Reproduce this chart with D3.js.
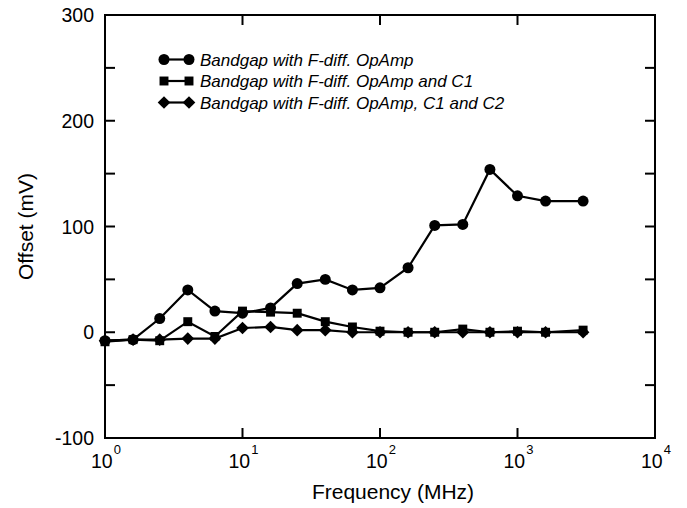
<!DOCTYPE html>
<html><head><meta charset="utf-8">
<script src="https://cdn.jsdelivr.net/npm/d3@7"></script>
<style>body{margin:0;background:#fff}svg{display:block}</style>
</head><body>
<script>
const freq = [1, 1.6, 2.5, 4, 6.3, 10, 16, 25, 40, 63, 100, 160, 250, 400, 630, 1000, 1600, 3000];
const offsetOpAmp = [-8, -7, 13, 40, 20, 18, 23, 46, 50, 40, 42, 61, 101, 102, 154, 129, 124, 124];
const offsetC1 = [-9, -7, -8, 10, -4, 20, 19, 18, 10, 5, 1, 0, 0, 3, 0, 1, 0, 2];
const offsetC1C2 = [-8, -7, -7, -6, -6, 4, 5, 2, 2, 0, 0, 0, 0, 0, 0, 0, 0, 0];
const seriesNames = ["Bandgap with F-diff. OpAmp", "Bandgap with F-diff. OpAmp and C1", "Bandgap with F-diff. OpAmp, C1 and C2"];
const yTicks = [-100, 0, 100, 200, 300];
const yMinorTicks = [-100, -50, 0, 50, 100, 150, 200, 250, 300];
const xTicks = [1, 10, 100, 1000, 10000];

const W = 687, H = 508;
const L = 105, R = 655, T = 15, B = 438;
const svg = d3.select("body").append("svg").attr("width", W).attr("height", H);
const x = d3.scaleLog().domain([1, 10000]).range([L, R]);
const y = d3.scaleLinear().domain([-100, 300]).range([B, T]);
const font = "Liberation Sans, Arial, Helvetica, sans-serif";

// frame
svg.append("rect").attr("x", L).attr("y", T).attr("width", R - L).attr("height", B - T)
  .attr("fill", "none").attr("stroke", "#000").attr("stroke-width", 2);

const tl = 10;
svg.selectAll(".ytl").data(yMinorTicks).enter().append("line")
  .attr("x1", L).attr("x2", L + tl).attr("y1", d => y(d)).attr("y2", d => y(d))
  .attr("stroke", "#000").attr("stroke-width", 2);
svg.selectAll(".ytr").data(yMinorTicks).enter().append("line")
  .attr("x1", R).attr("x2", R - tl).attr("y1", d => y(d)).attr("y2", d => y(d))
  .attr("stroke", "#000").attr("stroke-width", 2);
svg.selectAll(".xtb").data(xTicks).enter().append("line")
  .attr("y1", B).attr("y2", B - tl).attr("x1", d => x(d)).attr("x2", d => x(d))
  .attr("stroke", "#000").attr("stroke-width", 2);
svg.selectAll(".xtt").data(xTicks).enter().append("line")
  .attr("y1", T).attr("y2", T + tl).attr("x1", d => x(d)).attr("x2", d => x(d))
  .attr("stroke", "#000").attr("stroke-width", 2);

// y tick labels
svg.selectAll(".yl").data(yTicks).enter().append("text")
  .attr("x", L - 11).attr("y", d => y(d) + 7).attr("text-anchor", "end")
  .attr("font-family", font).attr("font-size", 19.5).text(d => d);

// x tick labels with superscripts
const xl = svg.selectAll(".xl").data(xTicks).enter().append("text")
  .attr("x", d => x(d) - 14).attr("y", B + 30).attr("text-anchor", "start")
  .attr("font-family", font).attr("font-size", 19.5);
xl.append("tspan").text("10");
xl.append("tspan").attr("dx", 1).attr("dy", -14).attr("font-size", 13).text(d => Math.round(Math.log10(d)));

// axis titles
svg.append("text").attr("x", 393).attr("y", 499).attr("text-anchor", "middle")
  .attr("font-family", font).attr("font-size", 21).text("Frequency (MHz)");
svg.append("text").attr("transform", `translate(33,${(T + B) / 2}) rotate(-90)`)
  .attr("text-anchor", "middle").attr("font-family", font).attr("font-size", 21).text("Offset (mV)");

// series
const allSeries = [offsetOpAmp, offsetC1, offsetC1C2];
const diamond = {draw(ctx, size) { const r = Math.sqrt(size / 2); ctx.moveTo(0, -r); ctx.lineTo(r, 0); ctx.lineTo(0, r); ctx.lineTo(-r, 0); ctx.closePath(); }};
const symbols = [d3.symbolCircle, d3.symbolSquare, diamond];
const sizes = [95, 80, 80];
const line = d3.line().x((d, i) => x(freq[i])).y(d => y(d));
allSeries.forEach((vals, k) => {
  const g = svg.append("g");
  g.append("path").attr("d", line(vals)).attr("fill", "none").attr("stroke", "#000").attr("stroke-width", 2.2);
  g.selectAll("path.m").data(vals).enter().append("path").attr("class", "m")
    .attr("transform", (d, i) => `translate(${x(freq[i])},${y(d)})`)
    .attr("d", d3.symbol().type(symbols[k]).size(sizes[k])).attr("fill", "#000");
});

// legend
const legY = [59.5, 81, 102.5];
seriesNames.forEach((name, k) => {
  const g = svg.append("g");
  g.append("line").attr("x1", 164).attr("x2", 189).attr("y1", legY[k]).attr("y2", legY[k])
    .attr("stroke", "#000").attr("stroke-width", 2.2);
  [164, 189].forEach(px => g.append("path").attr("transform", `translate(${px},${legY[k]})`)
    .attr("d", d3.symbol().type(symbols[k]).size(sizes[k])).attr("fill", "#000"));
  g.append("text").attr("x", 200).attr("y", legY[k] + 6).attr("font-family", font)
    .attr("font-style", "italic").attr("font-size", 17).text(name);
});
</script>
</body></html>
